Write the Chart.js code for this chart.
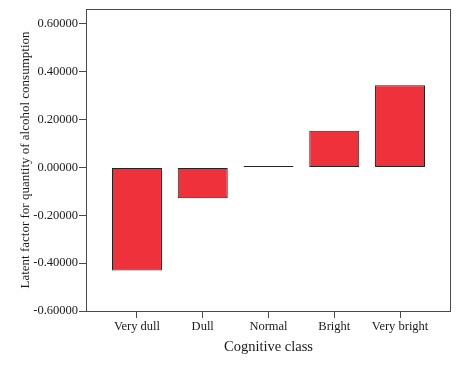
<!DOCTYPE html>
<html>
<head>
<meta charset="utf-8">
<script src="https://cdn.jsdelivr.net/npm/chart.js@4.4.1/dist/chart.umd.min.js"></script>
<style>
  html, body { margin: 0; padding: 0; background: #fff; }
  #wrap { width: 460px; height: 368px; }
</style>
</head>
<body>
<div id="wrap"><canvas id="chart"></canvas></div>
<script>
// Data
const categories = ['Very dull', 'Dull', 'Normal', 'Bright', 'Very bright'];
const latentValues = [-0.431, -0.129, 0.006, 0.154, 0.344];
const yTickValues = [-0.6, -0.4, -0.2, 0, 0.2, 0.4, 0.6];

const serif = '"Liberation Serif", "Times New Roman", serif';
const lineColor = '#4a4a4a';
const textColor = '#1a1a1a';

// draws the frame round the plot area
const frame = {
    id: 'frame',
    afterDraw(chart) {
        const a = chart.chartArea;
        const ctx = chart.ctx;
        ctx.save();
        ctx.strokeStyle = lineColor;
        ctx.lineWidth = 1;
        ctx.strokeRect(Math.round(a.left) + 0.5, Math.round(a.top) + 0.5,
            Math.round(a.right - a.left) - 1, Math.round(a.bottom - a.top));
        ctx.restore();
    }
};

const ctx = document.getElementById('chart').getContext('2d');
new Chart(ctx, {
    type: 'bar',
    data: {
        datasets: [{
            data: latentValues.map((v, i) => ({ x: i, y: v })),
            backgroundColor: '#ee313a',
            borderColor: '#222',
            borderWidth: 1,
            borderSkipped: false,
            barPercentage: 0.76,
            categoryPercentage: 1
        }]
    },
    options: {
        responsive: true,
        maintainAspectRatio: false,
        animation: false,
        layout: { padding: { top: 9, right: 9, left: 0, bottom: 0 } },
        plugins: {
            legend: { display: false },
            tooltip: { enabled: false }
        },
        scales: {
            x: {
                type: 'linear',
                offset: false,
                min: -0.775,
                max: categories.length - 1 + 0.775,
                afterBuildTicks: scale => {
                    scale.ticks = categories.map((c, i) => ({ value: i }));
                },
                afterFit: scale => { scale.height = 57; },
                ticks: {
                    callback: v => categories[v],
                    color: textColor,
                    font: { family: serif, size: 12.5 },
                    padding: 1,
                    maxRotation: 0
                },
                grid: {
                    offset: false,
                    drawOnChartArea: false,
                    drawTicks: true,
                    tickLength: 7,
                    color: lineColor
                },
                border: { display: false },
                title: {
                    display: true,
                    text: 'Cognitive class',
                    color: textColor,
                    font: { family: serif, size: 14.5 },
                    padding: { top: 0, bottom: 12 }
                }
            },
            y: {
                min: -0.6,
                max: 0.6625,
                afterBuildTicks: scale => {
                    scale.ticks = yTickValues.map(v => ({ value: v }));
                },
                afterFit: scale => { scale.width = 86; },
                ticks: {
                    callback: v => v.toFixed(5),
                    color: textColor,
                    font: { family: serif, size: 12.5 },
                    padding: 1
                },
                grid: {
                    drawOnChartArea: false,
                    drawTicks: true,
                    tickLength: 7,
                    color: lineColor
                },
                border: { display: false },
                title: {
                    display: true,
                    text: 'Latent factor for quantity of alcohol consumption',
                    color: textColor,
                    font: { family: serif, size: 13 },
                    padding: { top: 18, bottom: 0 }
                }
            }
        }
    },
    plugins: [frame]
});
</script>
</body>
</html>
